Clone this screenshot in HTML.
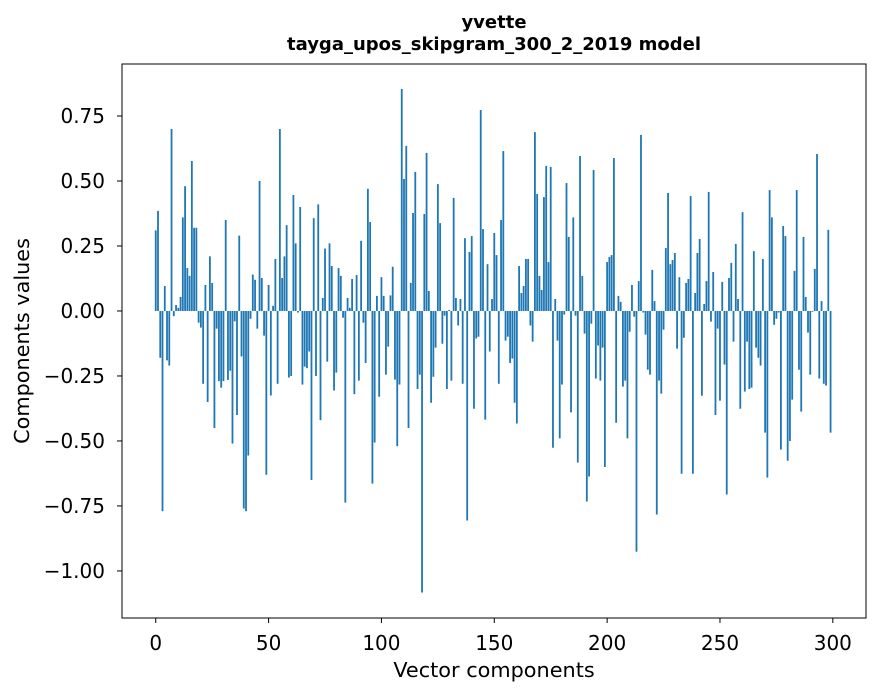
<!DOCTYPE html>
<html><head><meta charset="utf-8"><style>
html,body{margin:0;padding:0;background:#fff;}
svg{display:block;font-family:"DejaVu Sans","Liberation Sans",sans-serif;}
</style></head><body>
<svg id="chart" width="880" height="696" xmlns="http://www.w3.org/2000/svg">
<rect x="0" y="0" width="880" height="696" fill="#fff"/>
<text x="494" y="28" text-anchor="middle" font-size="18" font-weight="bold">yvette</text>
<text x="494" y="50" text-anchor="middle" font-size="18" font-weight="bold">tayga_upos_skipgram_300_2_2019 model</text>
<g id="bars"></g>
<g id="xticks"></g>
<g id="yticks"></g>
<rect x="122" y="64" width="744" height="554" fill="none" stroke="#000" stroke-width="1"/>
<text x="494" y="677" text-anchor="middle" font-size="20.8">Vector components</text>
<text x="29" y="341" text-anchor="middle" font-size="20.8" transform="rotate(-90 29 341)">Components values</text>
</svg>
<script>
const values = [0.31,0.385,-0.18,-0.77,0.096,-0.19,-0.21,0.70,-0.02,0.023,
0.012,0.054,0.36,0.48,0.165,0.135,0.577,0.32,0.32,-0.045,
-0.064,-0.28,0.1,-0.35,0.21,0.108,-0.45,-0.068,-0.27,-0.295,
-0.27,0.35,-0.265,-0.23,-0.51,-0.04,-0.40,0.29,-0.175,-0.76,
-0.77,-0.556,-0.03,0.14,0.12,-0.068,0.50,0.127,-0.095,-0.63,
0.10,-0.325,0.02,0.20,-0.28,0.70,0.127,0.21,0.33,-0.256,
-0.25,0.446,0.26,-0.006,0.40,-0.283,-0.214,-0.22,-0.156,-0.65,
0.357,-0.25,0.41,-0.42,0.05,0.24,-0.195,0.26,0.173,-0.306,
-0.237,0.165,0.135,-0.026,-0.737,0.05,0.012,0.123,-0.32,0.138,
-0.268,0.27,-0.045,-0.2,0.47,0.342,-0.664,-0.506,0.058,-0.33,
0.13,0.058,-0.245,-0.137,0.06,0.17,-0.264,-0.52,-0.283,0.854,
0.508,0.635,-0.45,0.108,0.377,0.535,-0.3,-0.245,-1.083,0.373,
0.608,0.077,-0.353,-0.253,-0.141,0.488,0.338,-0.126,-0.018,-0.3,
0.004,-0.268,0.435,0.05,-0.056,0.046,-0.28,0.28,-0.806,0.227,
0.288,-0.376,-0.106,-0.099,0.773,0.315,-0.418,0.18,-0.156,0.046,
0.3,0.215,-0.28,0.35,0.615,-0.114,-0.099,-0.2,-0.183,-0.353,
-0.433,0.173,0.069,0.096,0.2,0.2,-0.056,-0.118,0.688,0.45,
0.135,0.081,0.438,0.558,0.188,0.554,-0.526,0.046,-0.114,-0.49,
-0.283,-0.014,0.492,0.285,-0.39,0.36,-0.018,-0.583,0.596,0.135,
-0.087,-0.733,-0.637,-0.049,0.542,-0.26,-0.133,-0.268,-0.141,-0.6,
0.188,0.208,0.215,0.588,-0.43,0.058,0.035,-0.291,-0.268,-0.49,
-0.08,0.1,-0.022,-0.926,0.115,0.677,-0.006,-0.091,-0.226,-0.245,
0.158,0.038,-0.783,-0.268,-0.318,-0.072,0.242,0.454,0.18,0.196,
0.223,-0.145,0.13,-0.626,-0.103,0.108,0.123,0.442,-0.626,0.069,
0.223,0.277,-0.326,0.027,0.115,0.458,-0.041,0.15,-0.4,-0.068,
-0.345,0.112,-0.206,-0.706,0.127,0.185,-0.118,0.258,0.046,-0.376,
0.38,-0.31,-0.118,-0.3,-0.295,0.23,-0.141,-0.18,-0.21,0.2,
-0.468,-0.641,0.465,0.36,-0.053,-0.03,-0.006,-0.533,0.327,0.288,
-0.576,-0.5,-0.341,0.154,0.465,-0.226,-0.387,0.285,0.054,-0.083,
-0.245,-0.003,0.162,0.604,-0.26,0.038,-0.28,-0.287,0.312,-0.468];
const xTickValues = [0,50,100,150,200,250,300];
const yTickValues = [-1.0,-0.75,-0.5,-0.25,0,0.25,0.5,0.75];
const yTickLabels = ["\u22121.00","\u22120.75","\u22120.50","\u22120.25","0.00","0.25","0.50","0.75"];

const NS = "http://www.w3.org/2000/svg";
const PL = 122, PR = 866, PT = 64, PB = 618;
const XMIN = -14.95, XMAX = 314.7, YMIN = -1.181, YMAX = 0.95;
function xs(v){ return PL + (v - XMIN) / (XMAX - XMIN) * (PR - PL); }
function ys(v){ return PT + (YMAX - v) / (YMAX - YMIN) * (PB - PT); }

const bars = document.getElementById('bars');
values.forEach(function(v, i){
  const r = document.createElementNS(NS, 'rect');
  const w = xs(i + 0.4) - xs(i - 0.4);
  const y0 = ys(0), y1 = ys(v);
  r.setAttribute('x', xs(i - 0.4));
  r.setAttribute('y', Math.min(y0, y1));
  r.setAttribute('width', w);
  r.setAttribute('height', Math.max(Math.abs(y1 - y0), 0.3));
  r.setAttribute('fill', '#1f77b4');
  
  
  bars.appendChild(r);
});

const xt = document.getElementById('xticks');
xTickValues.forEach(function(v){
  const x = xs(v);
  const l = document.createElementNS(NS, 'line');
  l.setAttribute('x1', x); l.setAttribute('x2', x);
  l.setAttribute('y1', PB); l.setAttribute('y2', PB + 5);
  l.setAttribute('stroke', '#000');
  
  
  xt.appendChild(l);
  const t = document.createElementNS(NS, 'text');
  t.setAttribute('x', x); t.setAttribute('y', PB + 32);
  t.setAttribute('text-anchor', 'middle'); t.setAttribute('font-size', '20');
  t.textContent = String(v);
  
  
  xt.appendChild(t);
});

const yt = document.getElementById('yticks');
yTickValues.forEach(function(v, k){
  const y = ys(v);
  const l = document.createElementNS(NS, 'line');
  l.setAttribute('x1', PL - 5); l.setAttribute('x2', PL);
  l.setAttribute('y1', y); l.setAttribute('y2', y);
  l.setAttribute('stroke', '#000');
  
  
  yt.appendChild(l);
  const t = document.createElementNS(NS, 'text');
  t.setAttribute('x', PL - 17); t.setAttribute('y', y + 7);
  t.setAttribute('text-anchor', 'end'); t.setAttribute('font-size', '20');
  t.textContent = yTickLabels[k];
  
  
  yt.appendChild(t);
});
</script>
</body></html>
